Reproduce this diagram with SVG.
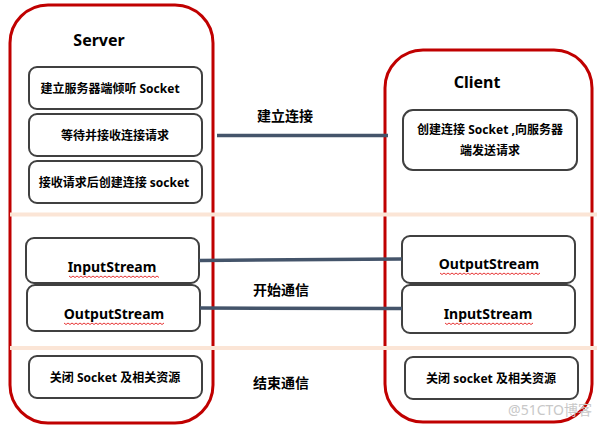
<svg xmlns="http://www.w3.org/2000/svg" width="602" height="429" viewBox="0 0 602 429">
<style>
.cont{fill:#fff;stroke:#C00000;stroke-width:3}
.box{fill:#fff;stroke:#404040;stroke-width:2}
.t{font-family:"Noto Sans","Noto Sans CJK SC",sans-serif;font-weight:bold;fill:#000;text-anchor:middle}
.s12{font-size:12px}
.s14{font-size:14px}
.s16{font-size:16px}
.conn{stroke:#44546A;stroke-width:3.5;fill:none}
.sep{stroke:#FBE5D6;stroke-width:4}
.wavy{stroke:#E00000;stroke-width:0.8;fill:none}
</style>
<rect width="602" height="429" fill="#fff"/>
<g id="server">
<rect class="cont" x="10" y="5" width="203" height="418" rx="38"/>
<text class="t s16" x="99" y="46">Server</text>
</g>
<g id="client">
<rect class="cont" x="385" y="50" width="207" height="372" rx="38"/>
<text class="t s16" x="477" y="88">Client</text>
</g>
<g id="s-listen">
<rect class="box" x="29" y="67" width="173" height="42" rx="8"/>
<text class="t s12" x="110" y="93">建立服务器端倾听 Socket</text>
</g>
<g id="s-accept">
<rect class="box" x="29" y="114" width="173" height="42" rx="8"/>
<text class="t s12" x="115" y="140">等待并接收连接请求</text>
</g>
<g id="s-create">
<rect class="box" x="29" y="161" width="173" height="42" rx="8"/>
<text class="t s12" x="114" y="187">接收请求后创建连接 socket</text>
</g>
<g id="s-input">
<rect class="box" x="26" y="238" width="173" height="45" rx="8"/>
<text class="t s14" x="112" y="272">InputStream</text>
<path class="wavy" d="M69 276 l2 1.5 l2 -1.5 l2 1.5 l2 -1.5 l2 1.5 l2 -1.5 l2 1.5 l2 -1.5 l2 1.5 l2 -1.5 l2 1.5 l2 -1.5 l2 1.5 l2 -1.5 l2 1.5 l2 -1.5 l2 1.5 l2 -1.5 l2 1.5 l2 -1.5 l2 1.5 l2 -1.5 l2 1.5 l2 -1.5 l2 1.5 l2 -1.5 l2 1.5 l2 -1.5 l2 1.5 l2 -1.5 l2 1.5 l2 -1.5 l2 1.5 l2 -1.5 l2 1.5 l2 -1.5 l2 1.5 l2 -1.5 l2 1.5 l2 -1.5 l2 1.5 l2 -1.5 l2 1.5 l2 -1.5 l2 1.5"/>
</g>
<g id="s-output">
<rect class="box" x="27" y="285" width="173" height="46" rx="8"/>
<text class="t s14" x="114" y="319">OutputStream</text>
<path class="wavy" d="M64 323 l2 1.5 l2 -1.5 l2 1.5 l2 -1.5 l2 1.5 l2 -1.5 l2 1.5 l2 -1.5 l2 1.5 l2 -1.5 l2 1.5 l2 -1.5 l2 1.5 l2 -1.5 l2 1.5 l2 -1.5 l2 1.5 l2 -1.5 l2 1.5 l2 -1.5 l2 1.5 l2 -1.5 l2 1.5 l2 -1.5 l2 1.5 l2 -1.5 l2 1.5 l2 -1.5 l2 1.5 l2 -1.5 l2 1.5 l2 -1.5 l2 1.5 l2 -1.5 l2 1.5 l2 -1.5 l2 1.5 l2 -1.5 l2 1.5 l2 -1.5 l2 1.5 l2 -1.5 l2 1.5 l2 -1.5 l2 1.5 l2 -1.5 l2 1.5 l2 -1.5 l2 1.5 l2 -1.5"/>
</g>
<g id="s-close">
<rect class="box" x="29" y="356" width="173" height="42" rx="8"/>
<text class="t s12" x="115" y="382">关闭 Socket 及相关资源</text>
</g>
<g id="c-connect">
<rect class="box" x="403" y="110" width="174" height="60" rx="10"/>
<text class="t s12" x="490" y="134">创建连接 Socket ,向服务器</text>
<text class="t s12" x="490" y="155">端发送请求</text>
</g>
<g id="c-output">
<rect class="box" x="402" y="236" width="173" height="47" rx="8"/>
<text class="t s14" x="489" y="269">OutputStream</text>
<path class="wavy" d="M440 273 l2 1.5 l2 -1.5 l2 1.5 l2 -1.5 l2 1.5 l2 -1.5 l2 1.5 l2 -1.5 l2 1.5 l2 -1.5 l2 1.5 l2 -1.5 l2 1.5 l2 -1.5 l2 1.5 l2 -1.5 l2 1.5 l2 -1.5 l2 1.5 l2 -1.5 l2 1.5 l2 -1.5 l2 1.5 l2 -1.5 l2 1.5 l2 -1.5 l2 1.5 l2 -1.5 l2 1.5 l2 -1.5 l2 1.5 l2 -1.5 l2 1.5 l2 -1.5 l2 1.5 l2 -1.5 l2 1.5 l2 -1.5 l2 1.5 l2 -1.5 l2 1.5 l2 -1.5 l2 1.5 l2 -1.5 l2 1.5 l2 -1.5 l2 1.5 l2 -1.5 l2 1.5 l2 -1.5"/>
</g>
<g id="c-input">
<rect class="box" x="402" y="285" width="173" height="48" rx="8"/>
<text class="t s14" x="488" y="319">InputStream</text>
<path class="wavy" d="M445 323 l2 1.5 l2 -1.5 l2 1.5 l2 -1.5 l2 1.5 l2 -1.5 l2 1.5 l2 -1.5 l2 1.5 l2 -1.5 l2 1.5 l2 -1.5 l2 1.5 l2 -1.5 l2 1.5 l2 -1.5 l2 1.5 l2 -1.5 l2 1.5 l2 -1.5 l2 1.5 l2 -1.5 l2 1.5 l2 -1.5 l2 1.5 l2 -1.5 l2 1.5 l2 -1.5 l2 1.5 l2 -1.5 l2 1.5 l2 -1.5 l2 1.5 l2 -1.5 l2 1.5 l2 -1.5 l2 1.5 l2 -1.5 l2 1.5 l2 -1.5 l2 1.5 l2 -1.5 l2 1.5 l2 -1.5"/>
</g>
<g id="c-close">
<rect class="box" x="405" y="357" width="173" height="42" rx="8"/>
<text class="t s12" x="491" y="383">关闭 socket 及相关资源</text>
</g>
<g id="connectors">
<line class="conn" x1="217" y1="135.5" x2="388" y2="135.5"/>
<line class="conn" x1="199" y1="260.5" x2="402" y2="259"/>
<line class="conn" x1="200" y1="308" x2="402" y2="308.5"/>
</g>
<g id="labels">
<text class="t s14" x="285" y="121">建立连接</text>
<text class="t s14" x="281" y="295">开始通信</text>
<text class="t s14" x="281" y="388">结束通信</text>
</g>
<g id="separators">
<line class="sep" x1="10" y1="214.5" x2="597" y2="214.5"/>
<line class="sep" x1="10" y1="348" x2="597" y2="348"/>
</g>
<text x="592" y="415" font-family="'Noto Sans','Noto Sans CJK SC',sans-serif" font-size="14" fill="#C8C8C8" text-anchor="end">@51CTO博客</text>
</svg>
